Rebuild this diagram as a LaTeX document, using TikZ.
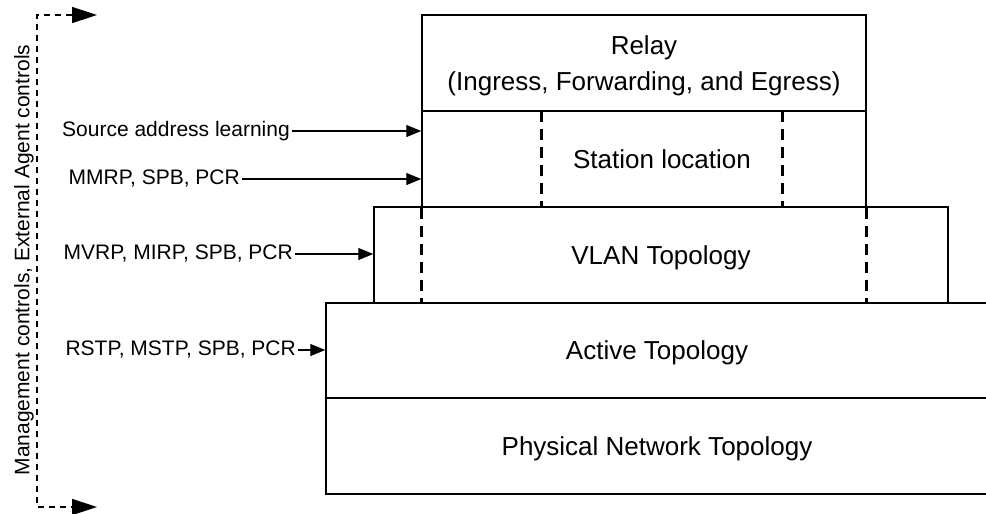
\documentclass[tikz,border=0pt]{standalone}
\usepackage{fontspec}
\setmainfont{Liberation Sans}
\usetikzlibrary{arrows.meta,calc}
\begin{document}
\begin{tikzpicture}[x=1pt,y=-1pt,
    layer/.style={draw, line width=1.5pt, minimum height=96pt, inner sep=0pt,
      text depth=0pt, align=center, font=\fontsize{26}{36}\selectfont},
    ctrl/.style={anchor=east, inner sep=2pt, font=\fontsize{21}{25}\selectfont},
    feed/.style={-{Triangle[length=15pt,width=12pt]}, line width=1.2pt},
    divider/.style={line width=3pt, dash pattern=on 11pt off 7pt}]

        \useasboundingbox (0,0) rectangle (986,514);

        % layers of the bridge
        \node[layer, minimum width=444pt] (relay) at (644,63) {};
        \node[align=center, font=\fontsize{26}{36}\selectfont] (relaytxt)
            at ($(relay.center)+(0,3)$) {Relay\\(Ingress, Forwarding, and Egress)};
        \node[layer, minimum width=444pt] (station) at (644,159) {};
        \node[minimum width=240pt, minimum height=96pt, inner sep=0pt,
            font=\fontsize{26}{36}\selectfont] (stationtxt) at (662,159) {Station location};
        \node[layer, minimum width=574pt] (vlan) at (661,255) {VLAN Topology};
        \node[layer, minimum width=662pt, minimum height=95pt] (active) at (657,350.5) {Active Topology};
        \node[layer, minimum width=662pt] (phys) at (657,446) {Physical Network Topology};

        % #######################################

        \draw[divider] (stationtxt.north west) -- (stationtxt.south west);
        \draw[divider] (stationtxt.north east) -- (stationtxt.south east);
        \draw[divider] (station.south west) -- (station.south west |- vlan.south);
        \draw[divider] (station.south east) -- (station.south east |- vlan.south);

        % protocols feeding each layer
        \node[ctrl] (sal) at (292,131) {Source address learning};
        \node[ctrl] (mmrp) at (242,179) {MMRP, SPB, PCR};
        \node[ctrl] (mvrp) at (295,254) {MVRP, MIRP, SPB, PCR};
        \node[ctrl] (rstp) at (298,350) {RSTP, MSTP, SPB, PCR};

        \draw[feed] (sal.east) -- (sal.east -| station.west);
        \draw[feed] (mmrp.east) -- (mmrp.east -| station.west);
        \draw[feed] (mvrp.east) -- (mvrp.east -| vlan.west);
        \draw[feed] (rstp.east) -- (rstp.east -| active.west);

        % management bracket
        \coordinate (mgmttop) at (97,15);
        \coordinate (mgmtbot) at (97,507);
        \draw[line width=1.5pt, dash pattern=on 6pt off 5pt,
            {Triangle[length=25pt,width=16pt]}-{Triangle[length=25pt,width=16pt]}]
            (mgmttop) -- ++(-60,0) |- (mgmtbot);
        \node[rotate=90, font=\fontsize{21}{25}\selectfont] (mgmt) at (24,260)
            {Management controls, External Agent controls};

    \end{tikzpicture}
\end{document}
